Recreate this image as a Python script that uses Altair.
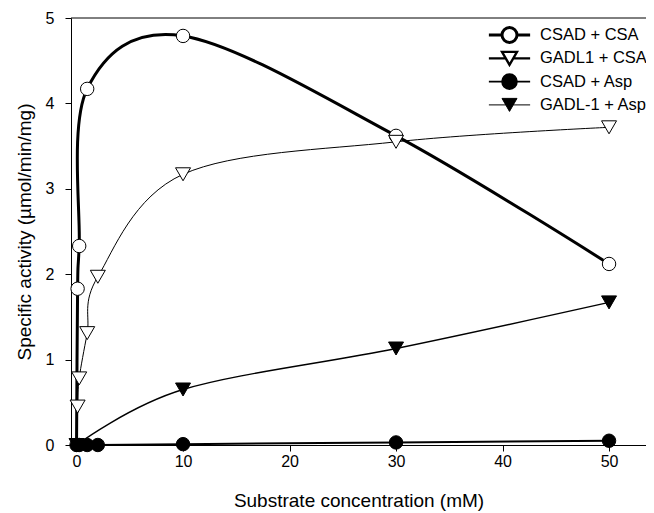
import altair as alt
import pandas as pd

# ---- data ----
series_names = ["CSAD + CSA", "\u00a0GADL1 + CSA", "\u00a0CSAD + Asp", "GADL-1 + Asp"]

csad_csa_x = [0, 0.1, 0.25, 1, 10, 30, 50]
csad_csa_y = [0, 1.83, 2.33, 4.17, 4.79, 3.62, 2.12]

gadl1_csa_x = [0, 0.1, 0.25, 1, 2, 10, 30, 50]
gadl1_csa_y = [0, 0.45, 0.78, 1.31, 1.97, 3.17, 3.55, 3.72]

csad_asp_x = [0, 0.25, 1, 2, 10, 30, 50]
csad_asp_y = [0, 0, 0, 0, 0.01, 0.03, 0.05]

gadl1_asp_x = [0, 10, 30, 50]
gadl1_asp_y = [0, 0.65, 1.13, 1.67]

x_ticks = [0, 10, 20, 30, 40, 50]
y_ticks = [0, 1, 2, 3, 4, 5]

# ---- styles ----
line_widths = [3, 1, 2, 1.4]
line_interp = ["cardinal", "catmull-rom", "catmull-rom", "catmull-rom"]
marker_shapes = ["circle", "triangle-down", "circle", "triangle-down"]
marker_fills = ["white", "white", "black", "black"]
marker_sizes = [180, 225, 180, 225]
# legend glyphs: a short line with the marker in its middle (drawn right of the symbol origin)
circle_glyph = "M-0.95,0L0.8,0M2.8,0L4.55,0M0.8,0A1,1,0,1,0,2.8,0A1,1,0,1,0,0.8,0Z"
triangle_glyph = "M-0.95,0L1.3,0M2.3,0L4.55,0M1.8,0.866L2.8,-0.866L0.8,-0.866Z"
legend_paths = [circle_glyph, triangle_glyph, circle_glyph, triangle_glyph]

xs = [csad_csa_x, gadl1_csa_x, csad_asp_x, gadl1_asp_x]
ys = [csad_csa_y, gadl1_csa_y, csad_asp_y, gadl1_asp_y]
rows = []
for name, sx, sy in zip(series_names, xs, ys):
    for a, b in zip(sx, sy):
        rows.append({"series": name, "x": a, "y": b})
df = pd.DataFrame(rows)

FONT = "Liberation Sans"
xscale = alt.Scale(domain=[-0.52, 53.47], nice=False, zero=False)
yscale = alt.Scale(domain=[0, 5], nice=False)

x_axis = alt.Axis(values=x_ticks, title="Substrate concentration (mM)",
                  titlePadding=22, labelPadding=2)
y_axis = alt.Axis(values=y_ticks, title="Specific activity (µmol/min/mg)",
                  titlePadding=11, labelPadding=11)

X = alt.X("x:Q", scale=xscale, axis=x_axis)
Y = alt.Y("y:Q", scale=yscale, axis=y_axis)

base = alt.Chart(df)
layers = []
# top frame line at the top of the y range
layers.append(
    alt.Chart(pd.DataFrame({"y": [max(y_ticks)]}))
    .mark_rule(color="black", strokeWidth=1)
    .encode(y=Y)
)
# lines
for i, name in enumerate(series_names):
    layers.append(
        base.transform_filter(alt.datum.series == name)
        .mark_line(interpolate=line_interp[i], tension=0, color="black", strokeWidth=line_widths[i])
        .encode(x=X, y=Y)
    )
# markers (open ones first, filled on top)
for i, name in enumerate(series_names):
    if marker_fills[i] == "white":
        flt = (alt.datum.series == name) & (alt.datum.x > 0)
    else:
        flt = alt.datum.series == name
    layers.append(
        base.transform_filter(flt)
        .mark_point(shape=marker_shapes[i], size=marker_sizes[i], filled=True,
                    fill=marker_fills[i], stroke="black", strokeWidth=1, opacity=1)
        .encode(x=X, y=Y)
    )

# legend layer (no marks drawn)
leg = alt.Legend(orient="none", legendX=416, legendY=8, title=None)
layers.append(
    base.transform_filter(alt.datum.x < -100)
    .mark_point(filled=True, opacity=1)
    .encode(
        x=X, y=Y,
        shape=alt.Shape("series:N", scale=alt.Scale(domain=series_names, range=legend_paths), legend=leg),
        fill=alt.Fill("series:N", scale=alt.Scale(domain=series_names, range=marker_fills), legend=leg),
        stroke=alt.Stroke("series:N", scale=alt.Scale(domain=series_names, range=["black"] * 4), legend=leg),
        strokeWidth=alt.StrokeWidth("series:N", scale=alt.Scale(domain=series_names, range=line_widths), legend=leg),
    )
)

chart = (
    alt.layer(*layers)
    .properties(width=575, height=427,
                autosize=alt.AutoSizeParams(type="none"),
                padding={"left": 63, "top": 10, "right": 0, "bottom": 67})
    .configure_view(stroke=None)
    .configure_axis(
        labelFont=FONT, titleFont=FONT, labelFontSize=16, titleFontSize=19,
        titleFontWeight="normal", labelColor="black", titleColor="black",
        domainColor="black", tickColor="black", tickSize=6, grid=False, domainWidth=1,
    )
    .configure_legend(
        labelFont=FONT, labelFontSize=16.5, labelColor="black", symbolSize=225,
        labelOffset=35, rowPadding=5.3, clipHeight=18, padding=0,
        symbolStrokeColor="black", symbolOpacity=1,
    )
)

chart.save("out.html", embed_options={"renderer": "svg", "actions": False})
